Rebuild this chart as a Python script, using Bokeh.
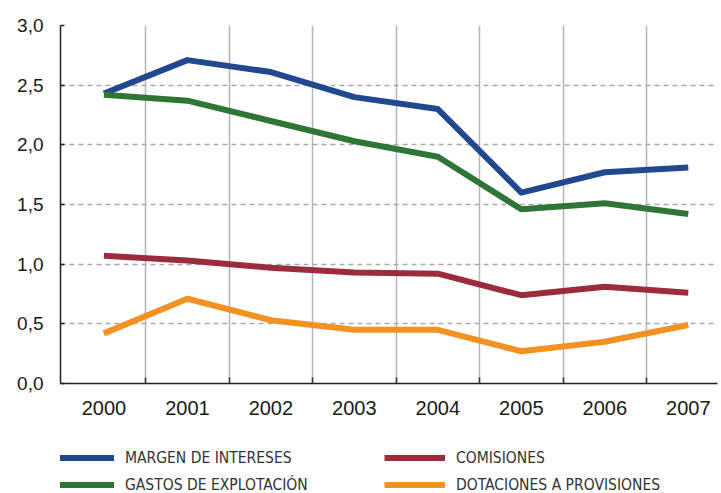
from bokeh.plotting import figure
from bokeh.models import (Range1d, FixedTicker, LinearAxis, Legend, LegendItem,
                          ColumnDataSource)
from bokeh.layouts import column
from bokeh.embed import file_html
from bokeh.resources import INLINE

years = ["2000", "2001", "2002", "2003", "2004", "2005", "2006", "2007"]
margen = [2.43, 2.71, 2.61, 2.40, 2.30, 1.60, 1.77, 1.81]
gastos = [2.42, 2.37, 2.20, 2.03, 1.90, 1.46, 1.51, 1.42]
comisiones = [1.07, 1.03, 0.97, 0.93, 0.92, 0.74, 0.81, 0.76]
dotaciones = [0.42, 0.71, 0.53, 0.45, 0.45, 0.27, 0.35, 0.49]

series_names = ["MARGEN DE INTERESES", "COMISIONES", "GASTOS DE EXPLOTACIÓN",
                "DOTACIONES A PROVISIONES"]
series_values = [margen, comisiones, gastos, dotaciones]
series_colors = ["#22498f", "#9c2b3e", "#2f7536", "#f39223"]

y_ticks = [0.0, 0.5, 1.0, 1.5, 2.0, 2.5, 3.0]
y_labels = ["0,0", "0,5", "1,0", "1,5", "2,0", "2,5", "3,0"]

x_idx = list(range(len(years)))
boundaries = [i + 0.5 for i in x_idx[:-1]]

FONT = "Liberation Sans"
LEGEND_FONT = "Liberation Sans Narrow, DejaVu Sans Condensed, sans-serif"

p = figure(width=721, height=444, output_backend="svg", toolbar_location=None,
           x_range=Range1d(-0.52, 7.35), y_range=Range1d(0, 3.0),
           x_axis_location=None, min_border_left=60, min_border_right=4,
           min_border_top=25, min_border_bottom=61)
p.outline_line_color = None
p.background_fill_color = "white"

# y axis
ya = p.yaxis[0]
ya.ticker = FixedTicker(ticks=y_ticks)
ya.major_label_overrides = {t: l for t, l in zip(y_ticks, y_labels)}
ya.major_label_text_font = FONT
ya.major_label_text_font_size = "19px"
ya.major_label_text_color = "#1a1a1a"
ya.major_tick_in = 4
ya.major_tick_out = 0
ya.minor_tick_line_color = None
ya.major_label_standoff = 17
ya.axis_line_color = "#222222"
ya.axis_line_width = 1.5
ya.major_tick_line_color = "#222222"
ya.major_tick_line_width = 1.5

# x axis: boundary ticks (inward) without labels
xa1 = LinearAxis(ticker=FixedTicker(ticks=boundaries), major_tick_in=6, major_tick_out=0,
                 minor_tick_line_color=None,
                 major_label_overrides={b: "" for b in boundaries},
                 major_label_standoff=0, axis_line_color="#222222", axis_line_width=1.5,
                 major_tick_line_color="#333333", major_tick_line_width=1.5)
p.add_layout(xa1, "below")
# x axis: year labels
xa2 = LinearAxis(ticker=FixedTicker(ticks=x_idx),
                 major_label_overrides={i: y for i, y in zip(x_idx, years)},
                 axis_line_color=None, major_tick_line_color=None,
                 minor_tick_line_color=None, major_label_standoff=11,
                 major_label_text_font=FONT, major_label_text_font_size="20px",
                 major_label_text_color="#1a1a1a")
p.add_layout(xa2, "below")

# grids
p.xgrid.ticker = FixedTicker(ticks=boundaries)
p.xgrid.grid_line_color = "#b5b5b5"
p.xgrid.grid_line_width = 1.5
p.ygrid.ticker = FixedTicker(ticks=y_ticks[1:])
p.ygrid.grid_line_color = "#aaaaaa"
p.ygrid.grid_line_width = 1.5
p.ygrid.grid_line_dash = "5 4"

for vals, col in zip(series_values, series_colors):
    src = ColumnDataSource(dict(x=x_idx, y=vals))
    p.line("x", "y", source=src, line_color=col, line_width=6, line_join="round")

# legend panel (separate strip below the chart); its series lie outside its view
lg = figure(width=721, height=49, output_backend="svg", toolbar_location=None,
            x_range=Range1d(100, 101), y_range=Range1d(100, 101),
            x_axis_location=None, y_axis_location=None,
            min_border_left=0, min_border_right=0, min_border_top=0, min_border_bottom=0)
lg.outline_line_color = None
lg.xgrid.visible = False
lg.ygrid.visible = False
items = []
for name, vals, col in zip(series_names, series_values, series_colors):
    r = lg.line(x=x_idx, y=vals, line_color=col, line_width=6)
    items.append(LegendItem(label=name, renderers=[r]))

legend = Legend(items=items, orientation="horizontal", ncols=2,
                location=(-7, -5), padding=0, margin=0, spacing=0,
                glyph_width=61, glyph_height=27, label_height=27, label_width=259,
                label_standoff=11, label_text_font=LEGEND_FONT,
                label_text_font_size="15.5px", label_text_color="#333333",
                border_line_color=None, background_fill_alpha=0)
lg.add_layout(legend, "center")

open("out.html", "w").write(file_html(column(p, lg), INLINE))
